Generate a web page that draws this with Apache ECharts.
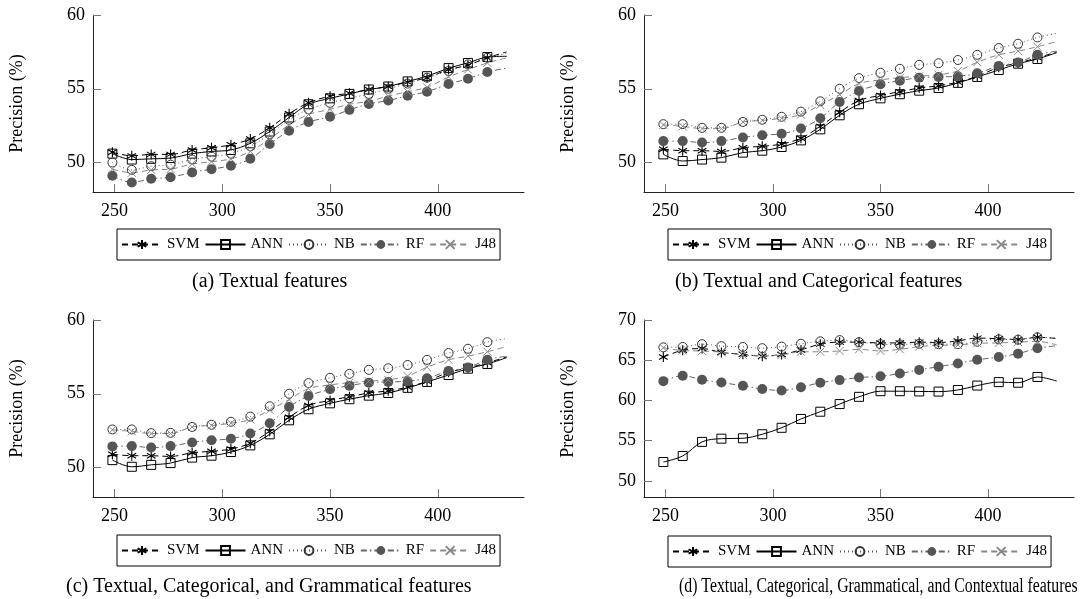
<!DOCTYPE html>
<html>
<head>
<meta charset="utf-8">
<script src="https://cdn.jsdelivr.net/npm/echarts@6/dist/echarts.min.js"></script>
<style>
  html, body { margin: 0; padding: 0; background: #fff; }
  #chart { width: 1090px; height: 599px; }
</style>
</head>
<body>
<div id="chart"></div>
<script>
  // number of features on the x axis (last point has no mark)
  var xs = [249, 258, 267, 276, 286, 295, 304, 313, 322, 331, 340, 350, 359, 368, 377, 386, 395, 405, 414, 423, 432];
  var xTicks = [250, 300, 350, 400];
  var yTicksAC = [50, 55, 60];
  var yTicksD = [50, 55, 60, 65, 70];
  var methods = ['SVM', 'ANN', 'NB', 'RF', 'J48'];

  // (a) Textual features
  var svmA = [50.7, 50.45, 50.55, 50.55, 50.85, 51.0, 51.2, 51.6, 52.35, 53.3, 54.05, 54.5, 54.7, 54.95, 55.15, 55.45, 55.75, 56.3, 56.6, 57.1, 57.5];
  var annA = [50.6, 50.2, 50.25, 50.3, 50.6, 50.75, 50.85, 51.3, 52.1, 53.05, 53.95, 54.35, 54.65, 54.95, 55.15, 55.5, 55.85, 56.4, 56.75, 57.15, 57.2];
  var nbA  = [50.0, 49.5, 49.75, 49.85, 50.2, 50.4, 50.6, 51.1, 51.9, 52.9, 53.6, 54.05, 54.35, 54.65, 55.0, 55.35, 55.75, 56.2, 56.65, 57.1, 57.4];
  var rfA  = [49.1, 48.65, 48.9, 49.0, 49.33, 49.55, 49.78, 50.25, 51.25, 52.15, 52.75, 53.1, 53.57, 53.97, 54.2, 54.52, 54.8, 55.32, 55.68, 56.13, 56.4];
  var j48A = [49.55, 49.3, 49.5, 49.55, 49.9, 50.05, 50.25, 50.75, 51.6, 52.55, 53.25, 53.6, 53.95, 54.15, 54.5, 54.8, 55.1, 55.8, 56.3, 56.75, 57.1];

  // (b) Textual and Categorical features
  var svmB = [50.9, 50.8, 50.8, 50.75, 51.0, 51.1, 51.25, 51.65, 52.45, 53.4, 54.2, 54.55, 54.8, 55.05, 55.2, 55.45, 55.85, 56.45, 56.75, 57.1, 57.5];
  var annB = [50.55, 50.1, 50.2, 50.33, 50.67, 50.8, 51.05, 51.5, 52.25, 53.2, 53.95, 54.35, 54.63, 54.87, 55.05, 55.4, 55.8, 56.27, 56.7, 57.02, 57.45];
  var nbB  = [52.6, 52.6, 52.35, 52.35, 52.75, 52.9, 53.1, 53.45, 54.15, 55.0, 55.72, 56.08, 56.35, 56.62, 56.73, 56.95, 57.3, 57.76, 58.05, 58.48, 58.75];
  var rfB  = [51.45, 51.45, 51.35, 51.45, 51.7, 51.85, 51.95, 52.3, 53.0, 54.1, 54.85, 55.3, 55.55, 55.75, 55.8, 55.85, 56.05, 56.55, 56.78, 57.3, 57.55];
  var j48B = [52.55, 52.45, 52.3, 52.3, 52.75, 52.85, 53.0, 53.25, 53.9, 54.6, 55.35, 55.6, 55.75, 55.85, 55.95, 56.2, 56.8, 57.3, 57.55, 57.85, 58.2];

  // (c) Textual, Categorical, and Grammatical features
  var svmC = [50.9, 50.8, 50.8, 50.75, 51.0, 51.1, 51.25, 51.65, 52.45, 53.4, 54.2, 54.55, 54.8, 55.05, 55.2, 55.45, 55.85, 56.45, 56.75, 57.1, 57.5];
  var annC = [50.5, 50.05, 50.18, 50.3, 50.67, 50.8, 51.05, 51.5, 52.25, 53.2, 53.95, 54.35, 54.63, 54.87, 55.05, 55.4, 55.8, 56.27, 56.7, 57.02, 57.45];
  var nbC  = [52.58, 52.58, 52.33, 52.35, 52.75, 52.9, 53.1, 53.45, 54.15, 55.0, 55.72, 56.08, 56.35, 56.62, 56.73, 56.95, 57.3, 57.76, 58.05, 58.5, 58.75];
  var rfC  = [51.43, 51.45, 51.35, 51.45, 51.7, 51.85, 51.95, 52.3, 53.0, 54.1, 54.85, 55.3, 55.55, 55.75, 55.8, 55.85, 56.05, 56.55, 56.78, 57.3, 57.55];
  var j48C = [52.55, 52.45, 52.3, 52.3, 52.75, 52.85, 53.0, 53.25, 53.9, 54.6, 55.35, 55.6, 55.75, 55.85, 55.95, 56.2, 56.8, 57.3, 57.55, 57.85, 58.2];

  // (d) Textual, Categorical, Grammatical, and Contextual features
  var svmD = [65.4, 66.25, 66.45, 65.97, 65.75, 65.5, 65.72, 66.28, 67.0, 67.25, 67.25, 67.15, 67.15, 67.25, 67.2, 67.4, 67.75, 67.68, 67.58, 67.85, 67.7];
  var annD = [52.35, 53.1, 54.85, 55.25, 55.3, 55.8, 56.6, 57.7, 58.6, 59.55, 60.45, 61.15, 61.15, 61.12, 61.1, 61.3, 61.85, 62.28, 62.2, 62.92, 62.4];
  var nbD  = [66.6, 66.65, 67.0, 66.75, 66.65, 66.5, 66.7, 67.05, 67.35, 67.5, 67.25, 67.0, 66.95, 67.05, 67.0, 67.0, 67.3, 67.6, 67.55, 67.85, 67.8];
  var rfD  = [62.4, 63.08, 62.57, 62.23, 61.82, 61.43, 61.24, 61.65, 62.2, 62.53, 62.85, 63.0, 63.35, 63.8, 64.2, 64.6, 65.05, 65.4, 65.82, 66.48, 66.8];
  var j48D = [66.55, 66.2, 66.15, 66.0, 65.65, 65.55, 65.65, 66.05, 66.05, 66.15, 66.35, 66.15, 66.35, 66.7, 66.85, 66.9, 67.1, 67.15, 67.25, 67.35, 66.9];

  var panels = [
    [svmA, annA, nbA, rfA, j48A],
    [svmB, annB, nbB, rfB, j48B],
    [svmC, annC, nbC, rfC, j48C],
    [svmD, annD, nbD, rfD, j48D]
  ];

  var serif = '"Liberation Serif", "DejaVu Serif", serif';

  // marks: asterisk, open square, open circle, filled circle, cross
  var styles = {
    SVM: { symbol: 'path://M5,0 L5,10 M0.67,2.5 L9.33,7.5 M0.67,7.5 L9.33,2.5', size: 10,
           item: { color: 'none', borderColor: '#000', borderWidth: 1.1 },
           line: { color: '#000', width: 1, type: [6, 4] } },
    ANN: { symbol: 'rect', size: 9,
           item: { color: 'none', borderColor: '#000', borderWidth: 1 },
           line: { color: '#000', width: 1, type: 'solid' } },
    NB:  { symbol: 'circle', size: 9,
           item: { color: 'none', borderColor: '#333', borderWidth: 1 },
           line: { color: '#555', width: 1, type: [1, 3] } },
    RF:  { symbol: 'circle', size: 10,
           item: { color: '#555', borderWidth: 0 },
           line: { color: '#666', width: 1, type: [6, 3, 1.5, 3] } },
    J48: { symbol: 'path://M0,0 L10,10 M0,10 L10,0', size: 8,
           item: { color: 'none', borderColor: '#888', borderWidth: 1 },
           line: { color: '#888', width: 1, type: [6, 4] } }
  };

  var grids = [
    { left: 93, top: 15, width: 431, height: 177 },
    { left: 644, top: 15, width: 430, height: 177 },
    { left: 93, top: 320, width: 431, height: 177 },
    { left: 644, top: 320, width: 430, height: 177 }
  ];

  var xAxes = [], yAxes = [], series = [], legends = [];
  var legendPos = [[117, 229], [668, 229], [117, 535], [668, 536]];

  for (var p = 0; p < 4; p++) {
    xAxes.push({
      type: 'value', gridIndex: p, min: 240, max: 440,
      splitLine: { show: false },
      axisLine: { lineStyle: { color: '#222', width: 1 } },
      axisTick: { inside: true, length: 8, lineStyle: { color: '#777' }, customValues: xTicks },
      axisLabel: { color: '#000', fontFamily: serif, fontSize: 18, margin: 10, customValues: xTicks }
    });
    var yt = p === 3 ? yTicksD : yTicksAC;
    yAxes.push({
      type: 'value', gridIndex: p, min: 48, max: p === 3 ? 70 : 60,
      name: 'Precision (%)', nameLocation: 'middle', nameGap: 67, nameRotate: 90,
      nameTextStyle: { color: '#000', fontFamily: serif, fontSize: 18 },
      splitLine: { show: false },
      axisLine: { show: true, lineStyle: { color: '#222', width: 1 } },
      axisTick: { show: true, inside: true, length: 8, lineStyle: { color: '#777' }, customValues: yt },
      axisLabel: { color: '#000', fontFamily: serif, fontSize: 18, margin: 8, customValues: yt }
    });
    for (var m = 0; m < methods.length; m++) {
      var st = styles[methods[m]];
      var vals = panels[p][m];
      var data = xs.map(function (x, i) {
        if (i === xs.length - 1) return { value: [x, vals[i]], symbol: 'none' };
        return [x, vals[i]];
      });
      series.push({
        type: 'line', name: methods[m], xAxisIndex: p, yAxisIndex: p,
        data: data, smooth: 0.35,
        symbol: st.symbol, symbolSize: st.size, symbolKeepAspect: true,
        itemStyle: st.item, lineStyle: st.line,
        emphasis: { disabled: true }, animation: false
      });
    }
    legends.push({
      left: legendPos[p][0], top: legendPos[p][1],
      data: methods, orient: 'horizontal', selectedMode: false,
      itemWidth: 40, itemHeight: 11, itemGap: 5,
      padding: [8, 4, 8, 4],
      borderColor: '#000', borderWidth: 1,
      textStyle: { color: '#000', fontFamily: serif, fontSize: 15 }
    });
  }

  function caption(text, x, y, sx) {
    return {
      type: 'text', x: x, y: y, scaleX: sx || 1, silent: true,
      style: { text: text, x: 0, y: 0, fill: '#000', font: '20px ' + serif,
               textAlign: 'left', textVerticalAlign: 'middle', align: 'left', verticalAlign: 'middle' }
    };
  }

  var chart = echarts.init(document.getElementById('chart'));
  chart.setOption({
    animation: false,
    grid: grids,
    xAxis: xAxes,
    yAxis: yAxes,
    legend: legends,
    series: series,
    graphic: [
      caption('(a) Textual features', 192, 282),
      caption('(b) Textual and Categorical features', 675, 282),
      caption('(c) Textual, Categorical, and Grammatical features', 66, 587),
      caption('(d) Textual, Categorical, Grammatical, and Contextual features', 679, 587, 0.79)
    ]
  });
</script>
</body>
</html>
